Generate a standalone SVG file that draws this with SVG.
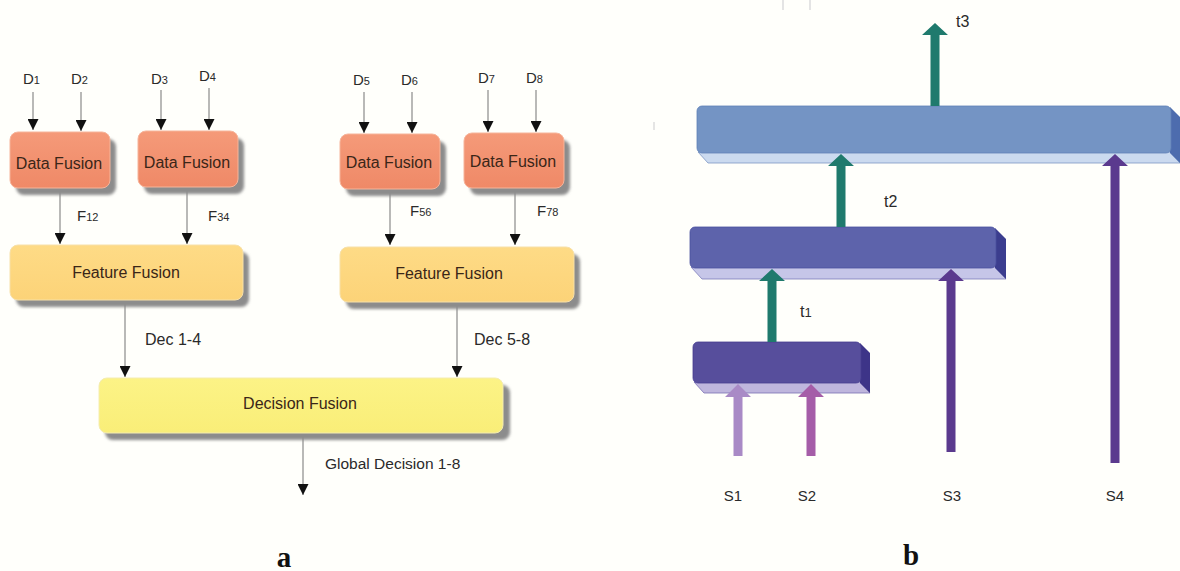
<svg xmlns="http://www.w3.org/2000/svg" width="1180" height="571" viewBox="0 0 1180 571">
<defs>
<style>
.lbl{font-family:"Liberation Sans",Arial,sans-serif;fill:#2a2a2a;}
.ntxt{font-family:"Liberation Sans",Arial,sans-serif;font-size:16px;fill:#3a2618;text-anchor:middle;dominant-baseline:central;}
.ln{stroke:#8a8a8a;stroke-width:1.2;fill:none;marker-end:url(#ah);}
.shadow{fill:#8c8c8c;filter:url(#blur);}
.df{fill:url(#gDF);stroke:#f6b49a;stroke-width:1;}
.ff{fill:url(#gFF);stroke:#f7e0a8;stroke-width:1;}
.dec{fill:url(#gDEC);stroke:#f4ecb0;stroke-width:1;}
.cap{font-family:"Liberation Serif","Times New Roman",serif;font-weight:bold;font-size:29px;fill:#111;text-anchor:middle;}
.teal{fill:#1f7a6d;}
.purp{fill:#5b3a8e;}
</style>
<marker id="ah" viewBox="0 0 10 10" refX="10" refY="5" markerWidth="11" markerHeight="11" markerUnits="userSpaceOnUse" orient="auto">
<path d="M0,0 L10,5 L0,10 z" fill="#111"/>
</marker>
<filter id="blur" x="-10%" y="-20%" width="120%" height="140%"><feGaussianBlur stdDeviation="1.5"/></filter>
<linearGradient id="gDF" x1="0" y1="0" x2="0" y2="1"><stop offset="0" stop-color="#f59a79"/><stop offset="1" stop-color="#ef8967"/></linearGradient>
<linearGradient id="gFF" x1="0" y1="0" x2="0" y2="1"><stop offset="0" stop-color="#fedb86"/><stop offset="1" stop-color="#fcd378"/></linearGradient>
<linearGradient id="gDEC" x1="0" y1="0" x2="0" y2="1"><stop offset="0" stop-color="#fcf386"/><stop offset="1" stop-color="#f9ee78"/></linearGradient>
</defs>
<rect x="0" y="0" width="1180" height="571" fill="#fffffb"/>
<g id="artifacts" stroke="#e4e4e4" stroke-width="2">
<line x1="783" y1="0" x2="783" y2="10"/>
<line x1="810" y1="0" x2="810" y2="10"/>
<line x1="654" y1="122" x2="654" y2="130" stroke="#dddddd" stroke-width="1.5"/>
</g>

<!-- Panel a -->
<g id="connectors-a">
<line class="ln" x1="33" y1="92" x2="33" y2="130"/>
<line class="ln" x1="81" y1="92" x2="81" y2="131"/>
<line class="ln" x1="161" y1="90" x2="161" y2="130"/>
<line class="ln" x1="209" y1="88" x2="209" y2="130"/>
<line class="ln" x1="364" y1="92" x2="364" y2="133"/>
<line class="ln" x1="412" y1="92" x2="412" y2="133"/>
<line class="ln" x1="488" y1="90" x2="488" y2="132"/>
<line class="ln" x1="536" y1="90" x2="536" y2="132"/>
<line class="ln" x1="60" y1="188" x2="60" y2="244"/>
<line class="ln" x1="187" y1="187" x2="187" y2="244"/>
<line class="ln" x1="390" y1="189" x2="390" y2="245"/>
<line class="ln" x1="515" y1="188" x2="515" y2="245"/>
<line class="ln" x1="125" y1="300" x2="125" y2="377"/>
<line class="ln" x1="457" y1="302" x2="457" y2="377"/>
<line class="ln" x1="303" y1="433" x2="303" y2="495"/>
</g>
<g id="labels-a" class="lbl" font-size="15">
<text x="23" y="84">D<tspan font-size="11">1</tspan></text>
<text x="71" y="84">D<tspan font-size="11">2</tspan></text>
<text x="151" y="84">D<tspan font-size="11">3</tspan></text>
<text x="199" y="81">D<tspan font-size="11">4</tspan></text>
<text x="353" y="85">D<tspan font-size="11">5</tspan></text>
<text x="401" y="85">D<tspan font-size="11">6</tspan></text>
<text x="478" y="83">D<tspan font-size="11">7</tspan></text>
<text x="526" y="83">D<tspan font-size="11">8</tspan></text>
<text x="77" y="221">F<tspan font-size="11">12</tspan></text>
<text x="208" y="221">F<tspan font-size="11">34</tspan></text>
<text x="410" y="216">F<tspan font-size="11">56</tspan></text>
<text x="537" y="216">F<tspan font-size="11">78</tspan></text>
<text x="145" y="345" font-size="16">Dec 1-4</text>
<text x="474" y="345" font-size="16">Dec 5-8</text>
<text x="325" y="469" font-size="15.5">Global Decision 1-8</text>
</g>
<g id="df1"><rect class="shadow" x="16" y="139" width="100" height="56" rx="8"/><rect class="df" x="10" y="132" width="100" height="56" rx="8"/><text class="ntxt" x="59" y="163">Data Fusion</text></g>
<g id="df2"><rect class="shadow" x="144" y="138" width="100" height="56" rx="8"/><rect class="df" x="138" y="131" width="100" height="56" rx="8"/><text class="ntxt" x="187" y="162">Data Fusion</text></g>
<g id="df3"><rect class="shadow" x="346" y="141" width="100" height="55" rx="8"/><rect class="df" x="340" y="134" width="100" height="55" rx="8"/><text class="ntxt" x="389" y="162">Data Fusion</text></g>
<g id="df4"><rect class="shadow" x="470" y="140" width="100" height="55" rx="8"/><rect class="df" x="464" y="133" width="100" height="55" rx="8"/><text class="ntxt" x="513" y="161">Data Fusion</text></g>
<g id="ff1"><rect class="shadow" x="16" y="252" width="233" height="55" rx="8"/><rect class="ff" x="10" y="245" width="233" height="55" rx="8"/><text class="ntxt" x="126" y="272">Feature Fusion</text></g>
<g id="ff2"><rect class="shadow" x="346" y="254" width="234" height="55" rx="8"/><rect class="ff" x="340" y="247" width="234" height="55" rx="8"/><text class="ntxt" x="449" y="273">Feature Fusion</text></g>
<g id="decf"><rect class="shadow" x="105" y="385" width="405" height="55" rx="8"/><rect class="dec" x="99" y="378" width="404" height="55" rx="8"/><text class="ntxt" x="300" y="403">Decision Fusion</text></g>
<text class="cap" x="284" y="567">a</text>

<!-- Panel b -->
<g id="bar3">
<polygon points="698,152 1170,152 1180,163 708,163" fill="#cbdaef" stroke="#7d97c4" stroke-width="0.8"/>
<polygon points="1170,107 1180,117 1180,163 1170,153" fill="#4d6cae"/>
<rect x="697" y="106" width="474" height="47" rx="5" fill="#7494c4" stroke="#5f80b8" stroke-width="0.8"/>
</g>
<g id="bar2">
<polygon points="691,267 995,267 1006,279 702,279" fill="#c6c6e8" stroke="#7c7cba" stroke-width="0.8"/>
<polygon points="995,228 1006,239 1006,279 995,268" fill="#3b3d8e"/>
<rect x="690" y="227" width="306" height="41" rx="5" fill="#5d63ab" stroke="#4a50a0" stroke-width="0.8"/>
</g>
<g id="bar1">
<polygon points="694,382 860,382 870,393 704,393" fill="#bfb6dd" stroke="#7a70b2" stroke-width="0.8"/>
<polygon points="860,343 870,353 870,393 860,383" fill="#3d3488"/>
<rect x="693" y="342" width="168" height="41" rx="5" fill="#574e9c" stroke="#463e90" stroke-width="0.8"/>
</g>
<g id="connectors-b">
<polygon class="teal" points="935,23 948,35 939.5,35 939.5,106 930.5,106 930.5,35 922,35"/>
<polygon class="teal" points="841,154 854,166 845.5,166 845.5,227 836.5,227 836.5,166 828,166"/>
<polygon class="purp" points="1115,154 1128,166 1119.5,166 1119.5,463 1110.5,463 1110.5,166 1102,166"/>
<polygon class="teal" points="772,269 785,281 776.5,281 776.5,342 767.5,342 767.5,281 759,281"/>
<polygon class="purp" points="951,269 964,281 955.5,281 955.5,452 946.5,452 946.5,281 938,281"/>
<polygon fill="#a98ac6" points="738,384 751,397 742.5,397 742.5,456 733.5,456 733.5,397 725,397"/>
<polygon fill="#a55da8" points="811,384 824,397 815.5,397 815.5,456 806.5,456 806.5,397 798,397"/>
</g>
<g id="labels-b" class="lbl" font-size="16">
<text x="956" y="27">t3</text>
<text x="884" y="207">t2</text>
<text x="800" y="317">t<tspan font-size="13">1</tspan></text>
<text x="733" y="501" text-anchor="middle" font-size="15">S1</text>
<text x="807" y="501" text-anchor="middle" font-size="15">S2</text>
<text x="952" y="501" text-anchor="middle" font-size="15">S3</text>
<text x="1115" y="501" text-anchor="middle" font-size="15">S4</text>
</g>
<text class="cap" x="911" y="565">b</text>
</svg>
